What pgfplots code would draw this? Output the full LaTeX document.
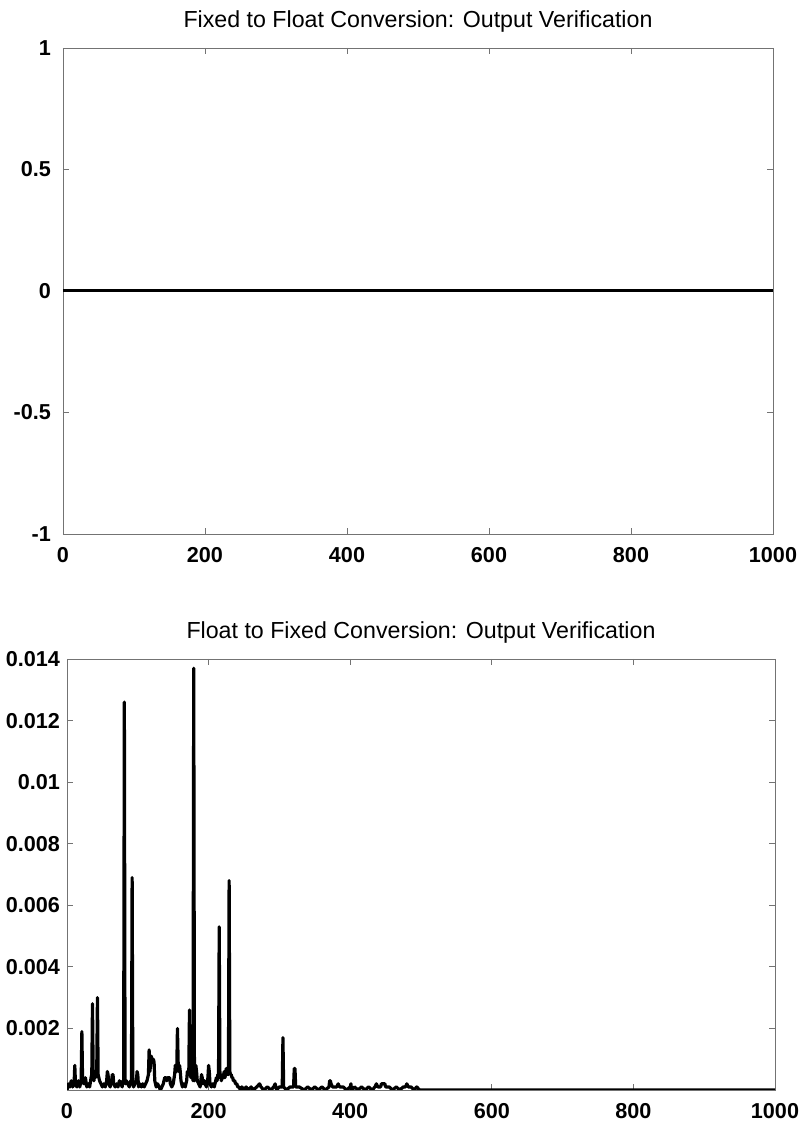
\documentclass[border=0pt]{standalone}
\usepackage{pgfplots}
\pgfplotsset{compat=1.18}
\usepackage{pgfplotstable}
\usepackage{fontspec}
\setmainfont{Liberation Sans}

% error of the float -> fixed conversion
\pgfplotstableread{
x y
0 0.0000
2 0.0002
4 0.0001
6 0.0003
8 0.0001
10 0.0002
11 0.0008
12 0.0002
14 0.0001
16 0.0003
18 0.0001
20 0.0003
21 0.0019
22 0.0003
24 0.0002
26 0.0004
28 0.0001
30 0.0002
32 0.0001
34 0.0004
35 0.0005
36 0.0028
37 0.0005
38 0.0003
39 0.0005
40 0.0004
42 0.0006
43 0.0030
44 0.0005
45 0.0004
46 0.0003
48 0.0002
50 0.0001
52 0.0002
54 0.0001
56 0.0003
57 0.0006
58 0.0005
59 0.0002
61 0.0001
63 0.0003
64 0.0005
65 0.0005
66 0.0002
68 0.0001
70 0.0002
72 0.0001
74 0.0003
76 0.0002
78 0.0001
79 0.0003
80 0.0002
81 0.0126
82 0.0003
83 0.0002
84 0.0003
86 0.0002
88 0.0001
90 0.0003
91 0.0002
92 0.0069
93 0.0002
94 0.0001
96 0.0002
98 0.0003
99 0.0006
100 0.0005
101 0.0001
103 0.0002
105 0.0001
107 0.0002
109 0.0001
111 0.0002
113 0.0003
115 0.0005
116 0.0013
117 0.0006
118 0.0008
119 0.0011
120 0.0010
121 0.0009
122 0.0010
123 0.0009
124 0.0003
126 0.0001
128 0.0002
130 0.0001
132 0.0000
134 0.0001
136 0.0002
138 0.0004
140 0.0004
141 0.0003
142 0.0004
144 0.0004
145 0.0004
146 0.0002
148 0.0001
150 0.0002
152 0.0005
153 0.0008
154 0.0007
155 0.0006
156 0.0020
157 0.0009
158 0.0006
159 0.0008
160 0.0006
161 0.0003
163 0.0001
165 0.0002
167 0.0001
169 0.0003
170 0.0006
171 0.0005
172 0.0005
173 0.0026
174 0.0006
175 0.0004
176 0.0006
177 0.0005
178 0.0003
179 0.0137
180 0.0003
181 0.0005
182 0.0008
183 0.0006
184 0.0003
186 0.0002
188 0.0001
189 0.0003
190 0.0005
191 0.0004
192 0.0002
194 0.0003
195 0.0002
197 0.0001
199 0.0004
200 0.0008
201 0.0006
202 0.0002
204 0.0001
206 0.0002
208 0.0001
210 0.0003
211 0.0004
212 0.0003
213 0.0005
214 0.0004
215 0.0053
216 0.0004
217 0.0005
218 0.0003
220 0.0005
221 0.0004
222 0.0006
223 0.0004
224 0.0005
225 0.0007
226 0.0005
227 0.0007
228 0.0005
229 0.0068
230 0.0006
231 0.0005
232 0.0005
233 0.0004
234 0.0004
235 0.0003
236 0.0003
237 0.0003
238 0.0002
239 0.0002
240 0.0002
241 0.0001
243 0.0001
245 0.0000
247 0.0001
250 0.0000
253 0.0001
256 0.0000
260 0.0001
263 0.0000
268 0.0001
272 0.0002
274 0.0001
278 0.0000
283 0.0001
288 0.0000
292 0.0001
294 0.0002
296 0.0000
300 0.0001
304 0.0001
305 0.0017
306 0.0001
310 0.0000
315 0.0001
320 0.0001
321 0.0007
322 0.0007
323 0.0001
328 0.0001
335 0.0000
340 0.0001
345 0.0000
350 0.0001
355 0.0000
360 0.0001
365 0.0000
370 0.0001
371 0.0003
372 0.0003
373 0.0002
375 0.0001
378 0.0001
381 0.0001
383 0.0002
385 0.0001
390 0.0001
395 0.0000
400 0.0001
401 0.0002
402 0.0000
406 0.0001
411 0.0000
416 0.0001
421 0.0000
426 0.0001
431 0.0000
435 0.0001
437 0.0002
439 0.0001
443 0.0001
444 0.0002
446 0.0002
448 0.0002
449 0.0002
450 0.0001
455 0.0001
460 0.0000
465 0.0001
470 0.0000
475 0.0001
478 0.0001
480 0.0002
482 0.0001
486 0.0001
490 0.0000
494 0.0001
498 0.0000
1000 0.0000
}\floatfixed

\pgfplotsset{
  matlab/.style={
    scale only axis,
    anchor=south west,
    xmin=0, xmax=1000,
    xtick={0,200,...,1000},
    tick align=inside,
    major tick length=3pt,
    axis line style={black!55},
    every tick/.style={black!55},
    tick label style={font=\bfseries\fontsize{10.8}{12}\selectfont},
    title style={font=\fontsize{11.6}{13}\selectfont, yshift=-1.5pt},
    xticklabel style={yshift=-3pt},
    /pgf/number format/assume math mode=true,
    /pgf/number format/set thousands separator={},
  }
}

\begin{document}
\begin{tikzpicture}
\useasboundingbox (0,0) rectangle (405pt,562.5pt);

\begin{axis}[matlab,
    at={(31.5pt,295.5pt)}, width=355pt, height=243pt,
    ymin=-1, ymax=1,
    ytick={-1,-0.5,0,0.5,1},
    yticklabel style={xshift=-2.5pt},
    title={Fixed to Float Conversion: Output Verification},
  ]
\addplot[black, line width=1.5pt] coordinates {(0,0) (1000,0)};
\end{axis}

\begin{axis}[matlab,
    at={(33.5pt,17.5pt)}, width=354pt, height=215.5pt,
    ymin=0, ymax=0.014,
    ytick={0.002,0.004,...,0.014},
    scaled y ticks=false,
    yticklabel style={/pgf/number format/.cd, fixed, precision=3},
    title={Float to Fixed Conversion: Output Verification},
  ]
\addplot[black, line width=1.6pt, line join=round] table[x=x, y=y] {\floatfixed};
\end{axis}
\end{tikzpicture}
\end{document}
